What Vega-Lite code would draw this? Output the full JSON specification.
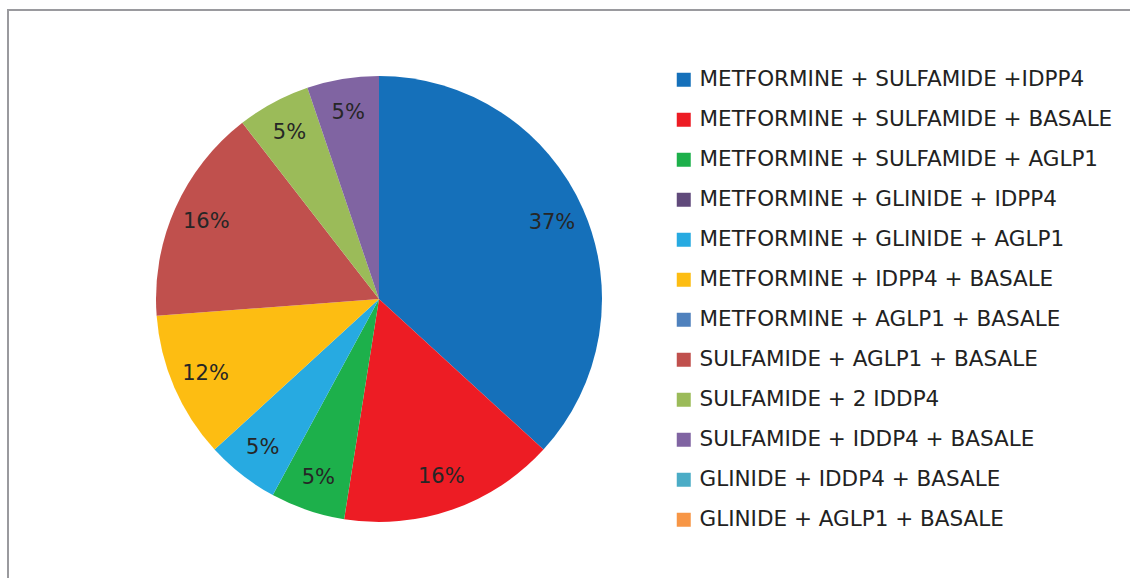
{
  "$schema": "https://vega.github.io/schema/vega-lite/v6.json",
  "width": 1126,
  "height": 573,
  "autosize": "none",
  "padding": {"left": 8, "top": 10, "right": -4, "bottom": -5},
  "background": "white",
  "view": {"stroke": "#9a9a9e", "strokeWidth": 2},
  "config": {
    "view": {"stroke": "#9a9a9e", "strokeWidth": 2},
    "font": "DejaVu Sans"
  },
  "data": {
    "values": [
      {"i": 1, "cat": "METFORMINE + SULFAMIDE +IDPP4", "share": 36.8, "label": "37%"},
      {"i": 2, "cat": "METFORMINE + SULFAMIDE + BASALE", "share": 15.7, "label": "16%"},
      {"i": 3, "cat": "METFORMINE + SULFAMIDE + AGLP1", "share": 5.4, "label": "5%"},
      {"i": 4, "cat": "METFORMINE + GLINIDE + IDPP4", "share": 0, "label": ""},
      {"i": 5, "cat": "METFORMINE + GLINIDE + AGLP1", "share": 5.3, "label": "5%"},
      {"i": 6, "cat": "METFORMINE + IDPP4 + BASALE", "share": 10.6, "label": "12%"},
      {"i": 7, "cat": "METFORMINE + AGLP1 + BASALE", "share": 0, "label": ""},
      {"i": 8, "cat": "SULFAMIDE + AGLP1 + BASALE", "share": 15.7, "label": "16%"},
      {"i": 9, "cat": "SULFAMIDE + 2 IDDP4", "share": 5.3, "label": "5%"},
      {"i": 10, "cat": "SULFAMIDE + IDDP4 + BASALE", "share": 5.2, "label": "5%"},
      {"i": 11, "cat": "GLINIDE + IDDP4 + BASALE", "share": 0, "label": ""},
      {"i": 12, "cat": "GLINIDE + AGLP1 + BASALE", "share": 0, "label": ""}
    ]
  },
  "encoding": {
    "theta": {"field": "share", "type": "quantitative", "stack": true},
    "order": {"field": "i", "type": "quantitative"},
    "color": {
      "field": "cat",
      "type": "nominal",
      "scale": {
        "domain": [
          "METFORMINE + SULFAMIDE +IDPP4",
          "METFORMINE + SULFAMIDE + BASALE",
          "METFORMINE + SULFAMIDE + AGLP1",
          "METFORMINE + GLINIDE + IDPP4",
          "METFORMINE + GLINIDE + AGLP1",
          "METFORMINE + IDPP4 + BASALE",
          "METFORMINE + AGLP1 + BASALE",
          "SULFAMIDE + AGLP1 + BASALE",
          "SULFAMIDE + 2 IDDP4",
          "SULFAMIDE + IDDP4 + BASALE",
          "GLINIDE + IDDP4 + BASALE",
          "GLINIDE + AGLP1 + BASALE"
        ],
        "range": ["#1570BA", "#ED1C24", "#1DB04B", "#604A7B", "#27AAE1", "#FDBD12", "#4F81BD", "#C0504D", "#9BBB59", "#8064A2", "#4BACC6", "#F79646"]
      },
      "legend": {
        "title": null,
        "orient": "none",
        "legendX": 665,
        "legendY": 59,
        "symbolType": "square",
        "symbolSize": 196,
        "symbolStrokeWidth": 0,
        "labelFont": "DejaVu Sans",
        "labelFontSize": 21.5,
        "labelColor": "#222222",
        "labelLimit": 0,
        "labelOffset": 5,
        "rowPadding": 17
      }
    }
  },
  "layer": [
    {
      "mark": {"type": "arc", "outerRadius": 223, "x": 371, "y": 289}
    },
    {
      "transform": [{"filter": "datum.share > 0"}],
      "mark": {"type": "text", "radius": 189, "x": 371, "y": 289, "fontSize": 21, "font": "DejaVu Sans"},
      "encoding": {
        "text": {"field": "label", "type": "nominal"},
        "color": {"value": "#262626"}
      }
    }
  ]
}
